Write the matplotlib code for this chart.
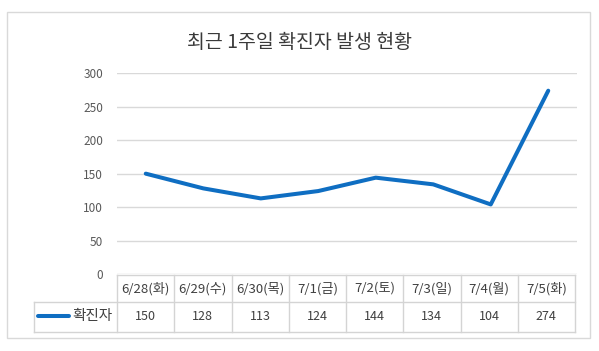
import matplotlib

matplotlib.use("Agg")
import matplotlib.pyplot as plt
from matplotlib.patches import Rectangle

plt.rcParams["font.family"] = ["Noto Sans CJK KR", "DejaVu Sans"]

title = "최근 1주일 확진자 발생 현황"
categories = ["6/28(화)", "6/29(수)", "6/30(목)", "7/1(금)", "7/2(토)", "7/3(일)", "7/4(월)", "7/5(화)"]
cases = [150, 128, 113, 124, 144, 134, 104, 274]
series_name = "확진자"
yticks = [0, 50, 100, 150, 200, 250, 300]

W, H = 599, 351
line_color = "#0F6EC2"
grid_color = "#D9D9D9"
text_color = "#595959"

fig = plt.figure(figsize=(W / 100, H / 100), dpi=100)

# overlay in pixel coords for the frame and data table
bg = fig.add_axes([0, 0, 1, 1])
bg.set_xlim(0, W)
bg.set_ylim(H, 0)
bg.axis("off")
bg.add_patch(Rectangle((7, 12), 583, 326, fill=False, edgecolor="#D9D9D9", linewidth=1))

# plot area: x 117..577, y(0)=274, y(300)=73.3
left, right, y0, y300 = 117, 577, 274, 73.3
ax = fig.add_axes([left / W, 1 - y0 / H, (right - left) / W, (y0 - y300) / H])
n = len(categories)
ax.set_xlim(-0.5, n - 0.5)
ax.set_ylim(0, 300)
ax.set_yticks(yticks)
ax.set_xticks([])
ax.tick_params(axis="y", length=0, labelsize=8.5, labelcolor=text_color, pad=10)
ax.grid(axis="y", color=grid_color, linewidth=1)
ax.set_axisbelow(True)
for s in ax.spines.values():
    s.set_visible(False)
ax.patch.set_alpha(0)
ax.plot(range(n), cases, color=line_color, linewidth=2.9, solid_capstyle="round",
        solid_joinstyle="round")

fig.text(0.5, 1 - 42 / H, title, ha="center", va="center", fontsize=14, color="#3A3A3A",
         fontweight="medium")

# data table under the plot
col_w = (575 - left) / n
top, mid, bot = 275, 302, 331.5
lab_left = 34
lc = "#D4D4D4"
bg.plot([left, left + n * col_w], [top, top], color=lc, lw=1)
bg.plot([lab_left, left + n * col_w], [mid, mid], color=lc, lw=1)
bg.plot([lab_left, left + n * col_w], [bot, bot], color=lc, lw=1)
bg.plot([lab_left, lab_left], [mid, bot], color=lc, lw=1)
for i in range(n + 1):
    x = left + i * col_w
    bg.plot([x, x], [top, bot], color=lc, lw=1)
for i, (c, v) in enumerate(zip(categories, cases)):
    cx = left + (i + 0.5) * col_w
    bg.text(cx, (top + mid) / 2, c, ha="center", va="center", fontsize=9.5, color="#404040")
    bg.text(cx, (mid + bot) / 2, str(v), ha="center", va="center", fontsize=9, color="#404040")
bg.plot([38, 69], [316, 316], color=line_color, lw=2.9, solid_capstyle="round")
bg.text(72, 316, series_name, ha="left", va="center", fontsize=10.5, color="#404040")

fig.savefig("out.png", dpi=100, facecolor="white")
